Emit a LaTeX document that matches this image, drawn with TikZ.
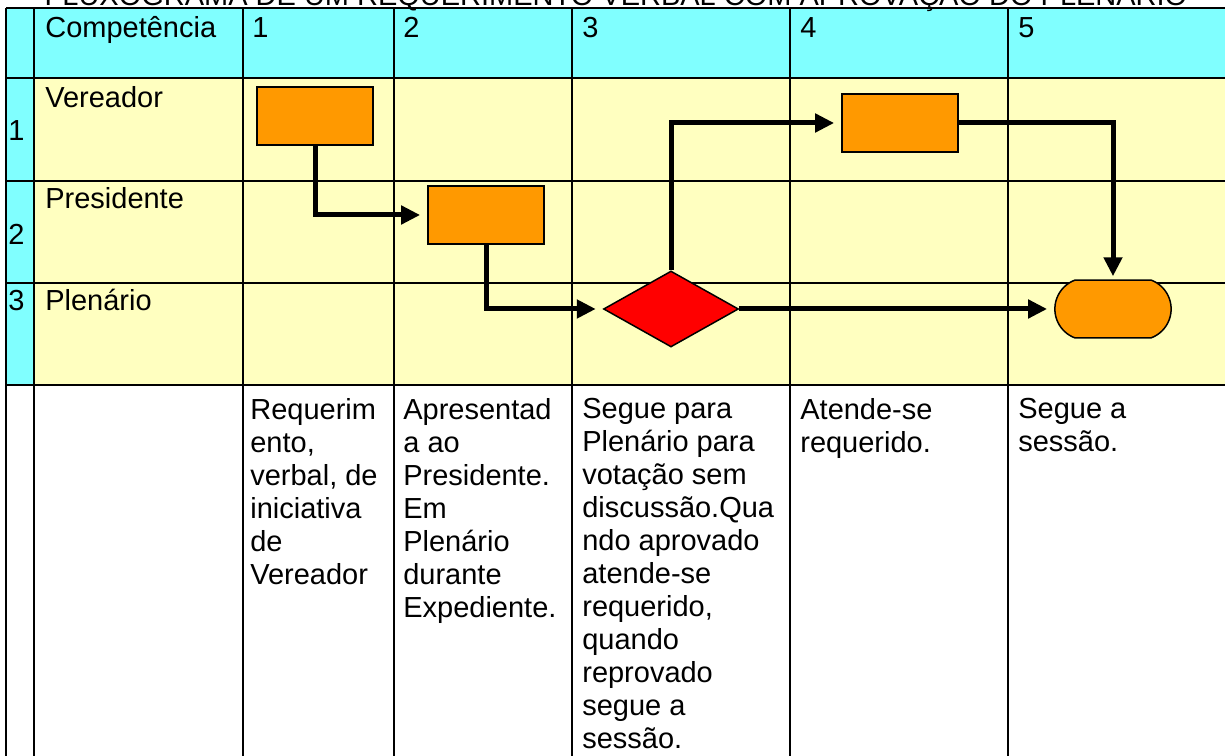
\documentclass[tikz,border=0pt]{standalone}
\usepackage{fontspec}
\setmainfont{Liberation Sans}
\usetikzlibrary{arrows.meta,shapes.geometric,shapes.misc,positioning}

\definecolor{headcyan}{RGB}{128,255,255}
\definecolor{laneyellow}{RGB}{255,255,192}
\definecolor{boxorange}{RGB}{255,153,0}

\begin{document}
\begin{tikzpicture}
        [
            x=0.02cm, y=-0.02cm,
            every node/.style={font=\fontsize{16.5pt}{18.8pt}\selectfont},
            txt/.style={anchor=base west, inner sep=0pt},
            note/.style={anchor=north west, inner sep=0pt, align=left},
            tableline/.style={line width=0.04cm},
            task/.style={rectangle, draw, line width=0.035cm, fill=boxorange, minimum width=2.32cm, minimum height=1.16cm},
            choice/.style={diamond, draw, line width=0.03cm, fill=red, inner sep=0pt, minimum width=2.7cm, minimum height=1.52cm},
            terminal/.style={rounded rectangle, rounded rectangle arc length=140, draw, line width=0.03cm, fill=boxorange, minimum width=2.56cm, minimum height=1.16cm},
            flow/.style={-{Triangle[length=0.38cm,width=0.36cm]}, line width=0.1cm, shorten >=0.14cm},
        ]
            \useasboundingbox (0,0) rectangle (1225,756);
            \clip (0,0) rectangle (1225,756);

            \fill[headcyan] (6,8) rectangle (1225,78);
            \fill[headcyan] (6,78) rectangle (34,385);
            \fill[laneyellow] (34,78) rectangle (1225,385);

            \draw[tableline] (6,8) -- (1225,8) (6,78) -- (1225,78) (6,181) -- (1225,181)
                (6,283) -- (1225,283) (6,385) -- (1225,385);
            \draw[tableline] (6,8) -- (6,756) (34,8) -- (34,756) (243,8) -- (243,756)
                (394,8) -- (394,756) (572,8) -- (572,756) (790,8) -- (790,756) (1008,8) -- (1008,756);

            \node[anchor=base, inner sep=0pt] (title) at (616,6) {FLUXOGRAMA DE UM REQUERIMENTO VERBAL COM APROVAÇÃO DO PLENÁRIO};

            \node[txt] (hcomp) at (45,38) {Competência};
            \node[txt] (h1) at (252,38) {1};
            \node[txt] (h2) at (403,38) {2};
            \node[txt] (h3) at (582,38) {3};
            \node[txt] (h4) at (800,38) {4};
            \node[txt] (h5) at (1018,38) {5};

            \node[txt] (r1) at (8,141) {1};
            \node[txt] (vereador) at (45,108) {Vereador};
            \node[txt] (r2) at (8,245) {2};
            \node[txt] (presidente) at (45,209) {Presidente};
            \node[txt] (r3) at (8,311) {3};
            \node[txt] (plenario) at (45,311) {Plenário};

            \node[note] (n1) at (250,398) {Requerim\\ento,\\verbal, de\\iniciativa\\de\\Vereador};
            \node[note] (n2) at (403,398) {Apresentad\\a ao\\Presidente.\\Em\\Plenário\\durante\\Expediente.};
            \node[note] (n3) at (582,398) {Segue para\\Plenário para\\votação sem\\discussão.Qua\\ndo aprovado\\atende-se\\requerido,\\quando\\reprovado\\segue a\\sessão.};
            \node[note] (n4) at (800,398) {Atende-se\\requerido.};
            \node[note] (n5) at (1018,398) {Segue a\\sessão.};

            \node[task] (V1) at (315,116) {};
            \node[task] (P1) at (486,215) {};
            \node[choice] (D) at (671,309) {};
            \node[task] (V2) at (900,123) {};
            \node[terminal] (E) at (1113,309) {};

            \draw[flow] (V1.south) |- (P1.west);
            \draw[flow] (P1.south) |- (D.west);
            \draw[flow] (D.north) |- (V2.west);
            \draw[flow, shorten >=0.06cm] (V2.east) -| (E.north);
            \draw[flow] (D.east) -- (E.west);
        \end{tikzpicture}
\end{document}
